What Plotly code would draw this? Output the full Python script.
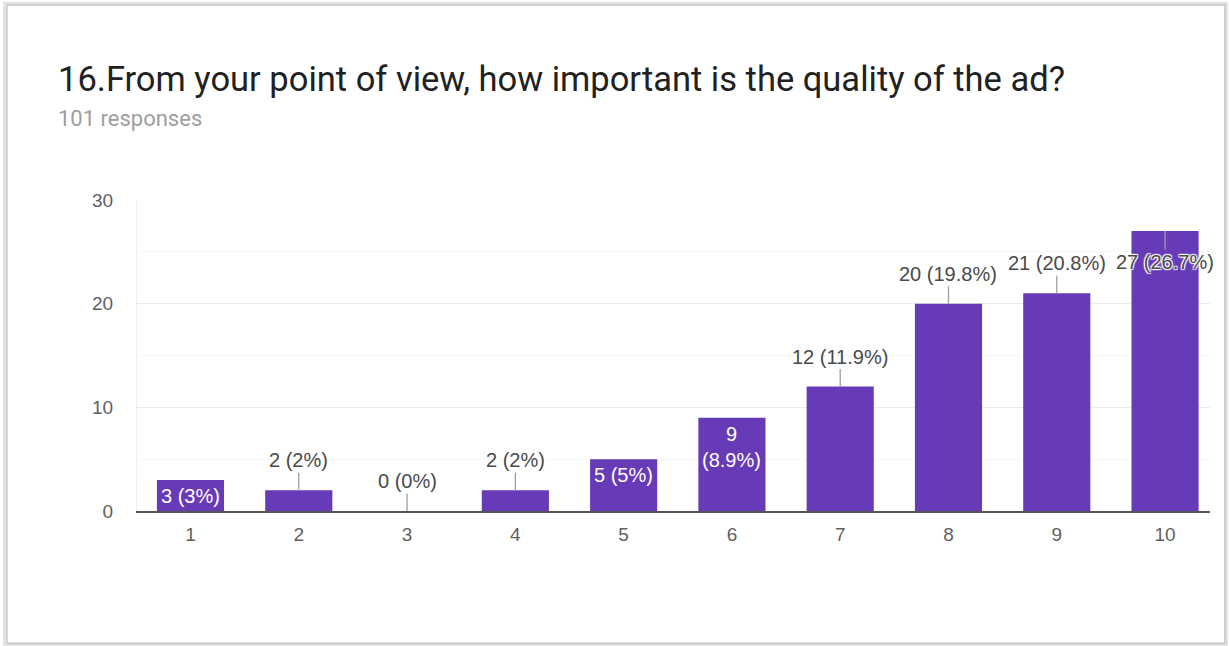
import plotly.graph_objects as go

# ---- data ----
categories = [1, 2, 3, 4, 5, 6, 7, 8, 9, 10]
counts = [3, 2, 0, 2, 5, 9, 12, 20, 21, 27]
label_text = ["3 (3%)", "2 (2%)", "0 (0%)", "2 (2%)", "5 (5%)", "9<br>(8.9%)",
              "12 (11.9%)", "20 (19.8%)", "21 (20.8%)", "27 (26.7%)"]
label_pos = ["inside", "above", "above", "above", "inside", "inside",
             "above", "above", "above", "below"]
y_ticks = [0, 10, 20, 30]
title_text = "16.From your point of view, how important is the quality of the ad?"
subtitle_text = "101 responses"

# ---- layout geometry (pixels) ----
W, H = 1229, 646
L, R, T, B = 137, 1210, 200, 510.7

def px_x(px):
    return (px - L) / (R - L)

def px_y(py):
    return (B - py) / (B - T)

PURPLE = "#673ab7"
LABEL_FONT = "Liberation Sans, Arial, sans-serif"
LABEL_COLOR = "#4a4a4a"
TICK_COLOR = "#5f5f5f"

fig = go.Figure()
fig.add_trace(go.Bar(
    x=categories, y=counts,
    marker=dict(color=PURPLE, line=dict(width=0)),
    width=0.62,
    hoverinfo="skip",
))

annotations = []
for c, v, t, p in zip(categories, counts, label_text, label_pos):
    if p == "inside":
        annotations.append(dict(
            x=c, y=v, xref="x", yref="y", text=t, showarrow=False,
            yanchor="top", yshift=-3,
            font=dict(family=LABEL_FONT, size=20, color="white"),
        ))
    elif p == "above":
        annotations.append(dict(
            x=c, y=v, xref="x", yref="y", text=t, showarrow=True,
            arrowhead=0, arrowwidth=1.3, arrowcolor="#9e9e9e",
            ax=0, ay=-30, standoff=0,
            font=dict(family=LABEL_FONT, size=20, color=LABEL_COLOR),
        ))
    else:
        annotations.append(dict(
            x=c, y=v, xref="x", yref="y", text=t, showarrow=True,
            arrowhead=0, arrowwidth=1.3, arrowcolor="#9e9e9e",
            ax=0, ay=31, standoff=0,
            font=dict(family=LABEL_FONT, size=20, color=LABEL_COLOR,
                      shadow="1px 1px 1px white, -1px -1px 1px white, 1px -1px 1px white, -1px 1px 1px white"),
        ))

# title and subtitle
annotations.append(dict(
    x=px_x(56), y=px_y(79), xref="paper", yref="paper", text=title_text,
    showarrow=False, xanchor="left", yanchor="middle",
    font=dict(family="Roboto, sans-serif", size=34.5, color="#212121"),
))
annotations.append(dict(
    x=px_x(56), y=px_y(119), xref="paper", yref="paper", text=subtitle_text,
    showarrow=False, xanchor="left", yanchor="middle",
    font=dict(family="Roboto, sans-serif", size=22, color="#9e9e9e"),
))

shapes = [
    # card border with soft shadow
    dict(type="rect", xref="paper", yref="paper",
         x0=px_x(5), x1=px_x(1226), y0=px_y(644), y1=px_y(4),
         line=dict(color="#e3e3e3", width=4), layer="below"),
    dict(type="rect", xref="paper", yref="paper",
         x0=px_x(7), x1=px_x(1225), y0=px_y(643), y1=px_y(5),
         line=dict(color="#c4c4c4", width=1.2), layer="below"),
]

fig.update_layout(
    width=W, height=H,
    margin=dict(l=L, r=W - R, t=T, b=H - B),
    paper_bgcolor="white", plot_bgcolor="white",
    showlegend=False,
    annotations=annotations,
    shapes=shapes,
    xaxis=dict(
        range=[0.506, 10.415], tickmode="array", tickvals=categories,
        ticktext=[str(c) for c in categories],
        showgrid=False, zeroline=False,
        showline=True, linecolor="#555555", linewidth=1.5,
        ticks="", ticklabelstandoff=5,
        tickfont=dict(family=LABEL_FONT, size=19, color=TICK_COLOR),
    ),
    yaxis=dict(
        range=[0, 30], tickmode="array", tickvals=y_ticks,
        showgrid=True, gridcolor="#ebebeb", gridwidth=1,
        minor=dict(dtick=5, showgrid=True, gridcolor="#f6f6f6", gridwidth=1),
        zeroline=False, showline=True, linecolor="#eeeeee", linewidth=1,
        ticks="", ticklabelstandoff=19,
        tickfont=dict(family=LABEL_FONT, size=19, color=TICK_COLOR),
    ),
)

fig.write_html("out.html",
               config={"displayModeBar": False},
               post_script="document.body.style.margin='0px';document.body.style.overflow='hidden';")
